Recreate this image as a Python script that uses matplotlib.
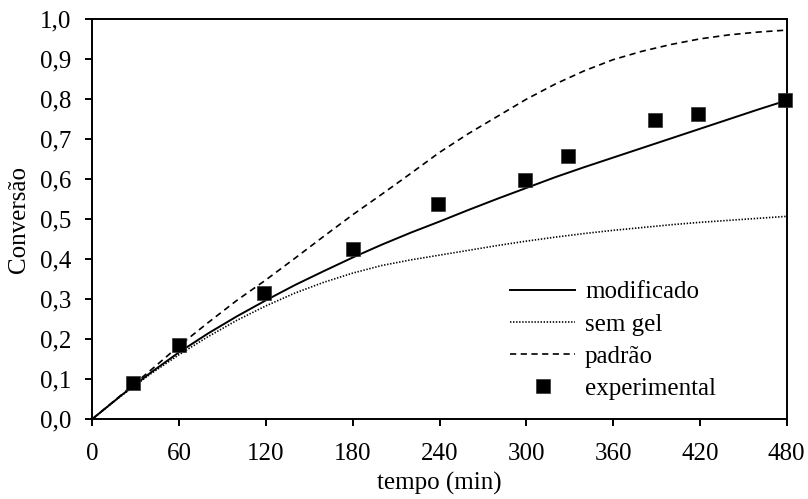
import matplotlib
matplotlib.use("Agg")
import matplotlib.pyplot as plt

# ---- data ----
t_model = [0, 20, 40, 60, 80, 100, 120, 140, 160, 180, 200, 220, 240,
           260, 280, 300, 320, 340, 360, 380, 400, 420, 440, 460, 480]
modificado = [0.0, 0.059, 0.115, 0.167, 0.214, 0.257, 0.297, 0.335, 0.370,
              0.404, 0.436, 0.466, 0.494, 0.523, 0.551, 0.578, 0.605, 0.630,
              0.654, 0.678, 0.702, 0.726, 0.750, 0.774, 0.797]
sem_gel = [0.0, 0.058, 0.112, 0.161, 0.206, 0.247, 0.283, 0.315, 0.342,
           0.365, 0.384, 0.398, 0.410, 0.422, 0.434, 0.445, 0.455, 0.464,
           0.472, 0.479, 0.486, 0.492, 0.497, 0.502, 0.507]
padrao = [0.0, 0.060, 0.121, 0.183, 0.241, 0.297, 0.348, 0.402, 0.457,
          0.511, 0.562, 0.614, 0.667, 0.714, 0.757, 0.800, 0.838, 0.871,
          0.899, 0.920, 0.937, 0.951, 0.961, 0.968, 0.973]

t_exp = [28, 60, 119, 180, 239, 299, 329, 389, 419, 479]
experimental = [0.089, 0.184, 0.316, 0.425, 0.537, 0.597, 0.658, 0.748, 0.763, 0.799]

x_ticks = [0, 60, 120, 180, 240, 300, 360, 420, 480]
y_ticks = [0.0, 0.1, 0.2, 0.3, 0.4, 0.5, 0.6, 0.7, 0.8, 0.9, 1.0]
y_tick_labels = ["0,0", "0,1", "0,2", "0,3", "0,4", "0,5", "0,6", "0,7", "0,8", "0,9", "1,0"]
labels = ["modificado", "sem gel", "padrão", "experimental"]

plt.rcParams['font.family'] = ['Liberation Serif', 'DejaVu Serif']
plt.rcParams['lines.scale_dashes'] = False
FS = 18

fig = plt.figure(figsize=(8.08, 4.99), dpi=100)
ax = fig.add_axes([92.3 / 808, 1 - 419 / 499, (786.7 - 92.3) / 808, (419 - 19.3) / 499])

ax.plot(t_model, modificado, color='black', lw=1.4, label=labels[0], zorder=3)
ax.plot(t_model, sem_gel, color='black', lw=1.2, dashes=(1.0, 1.2), label=labels[1], zorder=3)
ax.plot(t_model, padrao, color='black', lw=1.2, dashes=(4.5, 3.2), label=labels[2], zorder=3)
ax.plot(t_exp, experimental, linestyle='none', marker='s', markersize=10.5,
        color='black', markeredgecolor='#333333', markeredgewidth=0.5,
        label=labels[3], zorder=4, clip_on=False)

ax.set_xlim(0, 480)
ax.set_ylim(0, 1.0)
ax.set_xticks(x_ticks)
ax.set_xticklabels([str(v) for v in x_ticks])
ax.set_yticks(y_ticks)
ax.set_yticklabels(y_tick_labels)

for s in ax.spines.values():
    s.set_linewidth(1.4)
ax.tick_params(axis='both', direction='out', length=5, width=1.4,
               labelsize=FS, top=False, right=False)
ax.tick_params(axis='y', pad=10)
ax.tick_params(axis='x', pad=12)

ax.set_xlabel("tempo (min)", fontsize=FS, labelpad=5)
ax.set_ylabel("Conversão", fontsize=FS, labelpad=7)

leg = ax.legend(loc='upper left', bbox_to_anchor=(510 / 808, 1 - 281 / 499),
                bbox_transform=fig.transFigure, frameon=False, fontsize=FS,
                handlelength=2.6, handletextpad=0.4, labelspacing=0.38,
                borderpad=0, borderaxespad=0, numpoints=1)

fig.savefig("out.png", dpi=100)
